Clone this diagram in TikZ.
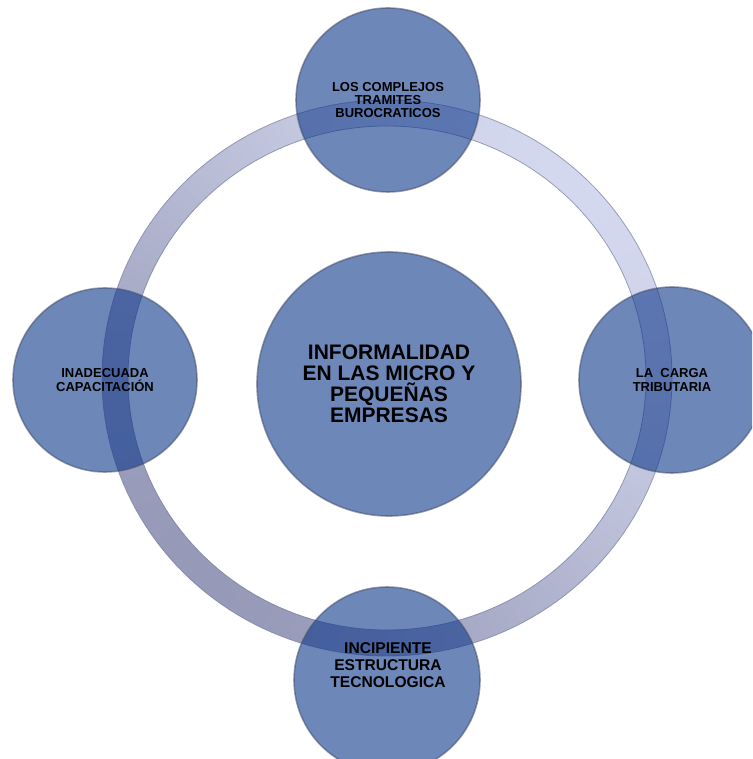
\documentclass[tikz,border=0pt]{standalone}
\usepackage{fontspec}
\setmainfont{Liberation Sans}
\definecolor{ringdark}{RGB}{150,154,184}
\definecolor{ringlight}{RGB}{212,216,238}
\definecolor{ringedgecol}{RGB}{120,126,160}
\definecolor{circfill}{RGB}{13,55,138}
\definecolor{rimcol}{RGB}{70,80,110}
\tikzset{
  bub/.style={circle, fill=circfill, fill opacity=0.6, draw=rimcol, draw opacity=0.55,
    line width=1.6pt, text opacity=1, text=black, inner sep=0pt, align=center},
  smalltxt/.style={font=\fontsize{13}{13.3}\selectfont\bfseries},
  bigtxt/.style={font=\fontsize{21}{21}\selectfont\bfseries},
  midtxt/.style={font=\fontsize{15.6}{17}\selectfont\bfseries},
  ringedge/.style={draw=ringedgecol, line width=0.8pt, draw opacity=0.7}
}
\begin{document}
\begin{tikzpicture}[x=1pt,y=1pt]
\useasboundingbox (0,0) rectangle (752,759);
\clip (0,0) rectangle (752,759);
% ring with gradient
\foreach \a in {0,2,...,358}{
  \pgfmathsetmacro\t{50*(1+cos(\a-45))}
  \draw[line width=26pt, color=ringlight!\t!ringdark]
    ({387+272*cos(\a)},{381+265*sin(\a)})
    arc[start angle=\a, end angle=\a+2.6, x radius=272pt, y radius=265pt];
}
\draw[ringedge] (387,381) ellipse [x radius=285pt, y radius=278pt];
\draw[ringedge] (387,381) ellipse [x radius=259pt, y radius=252pt];
% circles
\node[bub, bigtxt, minimum size=264pt] (center) at (389,375)
  {INFORMALIDAD\\EN LAS MICRO Y\\PEQUEÑAS\\EMPRESAS};
\node[bub, smalltxt, minimum size=184pt] (top) at (388,659)
  {LOS COMPLEJOS\\TRAMITES\\BUROCRATICOS};
\node[bub, smalltxt, minimum size=184pt] (left) at (105,379)
  {INADECUADA\\CAPACITACIÓN};
\node[bub, smalltxt, minimum size=186pt] (right) at (672,379)
  {LA\ \ CARGA\\TRIBUTARIA};
\node[bub, minimum size=186pt] (bottom) at (387,79) {};
\node[midtxt, align=center, text=black, inner sep=0pt] (bottomtxt) at (388,94)
  {INCIPIENTE\\ESTRUCTURA\\TECNOLOGICA};
\end{tikzpicture}
\end{document}
